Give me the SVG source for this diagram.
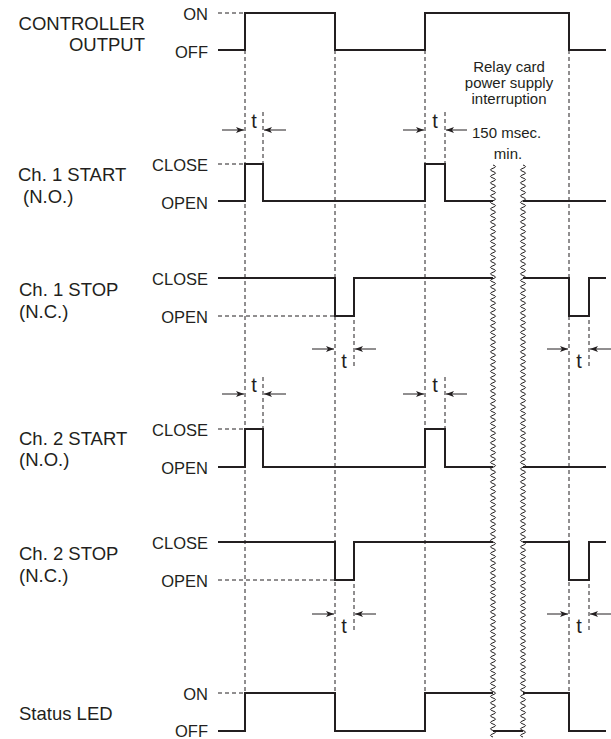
<svg xmlns="http://www.w3.org/2000/svg" width="611" height="739" viewBox="0 0 611 739">
<style>
text{font-family:"Liberation Sans",Arial,sans-serif;fill:#231f20}
.lbl{font-size:18.5px}
.st{font-size:16.5px;text-anchor:end}
.tt{font-size:20px;text-anchor:middle}
.note{font-size:15px}
.sig{fill:none;stroke:#231f20;stroke-width:2;stroke-linejoin:miter}
.dash{fill:none;stroke:#231f20;stroke-width:1;stroke-dasharray:4 3}
.arr{fill:none;stroke:#231f20;stroke-width:1;marker-end:url(#ah)}
.wave{fill:none;stroke:#231f20;stroke-width:1}
</style>
<defs>
<marker id="ah" markerUnits="userSpaceOnUse" markerWidth="9" markerHeight="6" refX="8" refY="3" orient="auto">
<path d="M0,0 L8,3 L0,6 L2,3 z" fill="#231f20"/>
</marker>
<path id="wv" d="M0,165 q5,1.625 0,3.25 t0,3.25t0,3.25t0,3.25t0,3.25t0,3.25t0,3.25t0,3.25t0,3.25t0,3.25t0,3.25 t0,3.25t0,3.25t0,3.25t0,3.25t0,3.25t0,3.25t0,3.25t0,3.25t0,3.25t0,3.25 t0,3.25t0,3.25t0,3.25t0,3.25t0,3.25t0,3.25t0,3.25t0,3.25t0,3.25t0,3.25 t0,3.25t0,3.25t0,3.25t0,3.25t0,3.25t0,3.25t0,3.25t0,3.25t0,3.25t0,3.25 t0,3.25t0,3.25t0,3.25t0,3.25t0,3.25t0,3.25t0,3.25t0,3.25t0,3.25t0,3.25 t0,3.25t0,3.25t0,3.25t0,3.25t0,3.25t0,3.25t0,3.25t0,3.25t0,3.25t0,3.25 t0,3.25t0,3.25t0,3.25t0,3.25t0,3.25t0,3.25t0,3.25t0,3.25t0,3.25t0,3.25 t0,3.25t0,3.25t0,3.25t0,3.25t0,3.25t0,3.25t0,3.25t0,3.25t0,3.25t0,3.25 t0,3.25t0,3.25t0,3.25t0,3.25t0,3.25t0,3.25t0,3.25t0,3.25t0,3.25t0,3.25 t0,3.25t0,3.25t0,3.25t0,3.25t0,3.25t0,3.25t0,3.25t0,3.25t0,3.25t0,3.25 t0,3.25t0,3.25t0,3.25t0,3.25t0,3.25t0,3.25t0,3.25t0,3.25t0,3.25t0,3.25 t0,3.25t0,3.25t0,3.25t0,3.25t0,3.25t0,3.25t0,3.25t0,3.25t0,3.25t0,3.25 t0,3.25t0,3.25t0,3.25t0,3.25t0,3.25t0,3.25t0,3.25t0,3.25t0,3.25t0,3.25 t0,3.25t0,3.25t0,3.25t0,3.25t0,3.25t0,3.25t0,3.25t0,3.25t0,3.25t0,3.25 t0,3.25t0,3.25t0,3.25t0,3.25t0,3.25t0,3.25t0,3.25t0,3.25t0,3.25t0,3.25 t0,3.25t0,3.25t0,3.25t0,3.25t0,3.25t0,3.25t0,3.25t0,3.25t0,3.25t0,3.25 t0,3.25t0,3.25t0,3.25t0,3.25t0,3.25t0,3.25t0,3.25t0,3.25t0,3.25t0,3.25 t0,3.25t0,3.25t0,3.25t0,3.25t0,3.25"/>
</defs>
<rect width="611" height="739" fill="#fff"/>

<g id="guides">
<path class="dash" d="M245,50V693 M335,50V693 M425,50V693 M569,50V693"/>
<path class="dash" d="M263,112V164 M445,112V164 M263,377V429 M445,377V429"/>
<path class="dash" d="M354,320V368 M589,320V368 M354,584V633 M589,584V633"/>
<path class="dash" d="M218,13H245 M218,164H245 M218,316H335 M218,429H245 M218,580H335 M218,693H245"/>
</g>

<g id="controller-output">
<text class="lbl" x="145" y="30" text-anchor="end">CONTROLLER</text>
<text class="lbl" x="145" y="51" text-anchor="end">OUTPUT</text>
<text class="st" x="208" y="20">ON</text>
<text class="st" x="208" y="58">OFF</text>
<path class="sig" d="M218,50H245V13H335V50H425V13H569V50H606"/>
</g>

<g id="ch1-start">
<text class="lbl" x="18" y="181">Ch. 1 START</text>
<text class="lbl" x="23" y="203">(N.O.)</text>
<text class="st" x="208" y="171">CLOSE</text>
<text class="st" x="208" y="209">OPEN</text>
<path class="sig" d="M218,201H245V164H263V201H425V164H445V201H493 M523,201H606"/>
</g>

<g id="ch1-stop">
<text class="lbl" x="19" y="296">Ch. 1 STOP</text>
<text class="lbl" x="19" y="318">(N.C.)</text>
<text class="st" x="208" y="285">CLOSE</text>
<text class="st" x="208" y="323">OPEN</text>
<path class="sig" d="M218,278H335V316H354V278H493 M523,278H569V316H589V278H606"/>
</g>

<g id="ch2-start">
<text class="lbl" x="19" y="445">Ch. 2 START</text>
<text class="lbl" x="19" y="466">(N.O.)</text>
<text class="st" x="208" y="436">CLOSE</text>
<text class="st" x="208" y="474">OPEN</text>
<path class="sig" d="M218,467H245V429H263V467H425V429H445V467H493 M523,467H606"/>
</g>

<g id="ch2-stop">
<text class="lbl" x="19" y="560">Ch. 2 STOP</text>
<text class="lbl" x="19" y="582">(N.C.)</text>
<text class="st" x="208" y="549">CLOSE</text>
<text class="st" x="208" y="587">OPEN</text>
<path class="sig" d="M218,542H335V580H354V542H493 M523,542H569V580H589V542H606"/>
</g>

<g id="status-led">
<text class="lbl" x="19" y="720">Status LED</text>
<text class="st" x="208" y="700">ON</text>
<text class="st" x="208" y="737">OFF</text>
<path class="sig" d="M218,731H245V693H335V731H425V693H493 M493,731H523 M523,693H569V731H606"/>
</g>

<g id="interruption">
<use href="#wv" x="493" class="wave"/>
<use href="#wv" x="523" class="wave"/>
<text class="note" x="509" y="72" text-anchor="middle">Relay card</text>
<text class="note" x="509" y="88" text-anchor="middle">power supply</text>
<text class="note" x="509" y="104" text-anchor="middle">interruption</text>
<text class="note" x="472" y="138">150 msec.</text>
<text class="note" x="508" y="159" text-anchor="middle">min.</text>
</g>

<g id="connectors">
<path class="arr" d="M222,130H244"/><path class="arr" d="M286,130H264"/>
<path class="arr" d="M403,130H424"/><path class="arr" d="M467,130H446"/>
<path class="arr" d="M312,349H334"/><path class="arr" d="M376,349H355"/>
<path class="arr" d="M547,349H568"/><path class="arr" d="M611,349H590"/>
<path class="arr" d="M222,394H244"/><path class="arr" d="M286,394H264"/>
<path class="arr" d="M403,394H424"/><path class="arr" d="M467,394H446"/>
<path class="arr" d="M312,614H334"/><path class="arr" d="M376,614H355"/>
<path class="arr" d="M547,614H568"/><path class="arr" d="M611,614H590"/>
</g>

<g id="t-labels">
<text class="tt" x="254" y="128">t</text>
<text class="tt" x="435" y="128">t</text>
<text class="tt" x="344" y="368">t</text>
<text class="tt" x="579" y="368">t</text>
<text class="tt" x="254" y="392">t</text>
<text class="tt" x="435" y="392">t</text>
<text class="tt" x="344" y="633">t</text>
<text class="tt" x="579" y="633">t</text>
</g>
</svg>
